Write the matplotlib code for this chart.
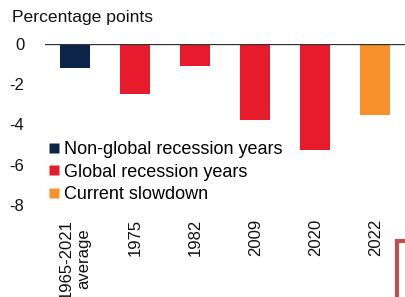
import matplotlib
matplotlib.use("Agg")
import matplotlib.pyplot as plt
from matplotlib.lines import Line2D
from matplotlib.patches import Rectangle

plt.rcParams["font.family"] = ["Liberation Sans", "DejaVu Sans"]

categories = ["1965-2021\naverage", "1975", "1982", "2009", "2020", "2022"]
values = [-1.2, -2.5, -1.1, -3.8, -5.25, -3.55]
groups = ["Non-global recession years", "Global recession years",
          "Global recession years", "Global recession years",
          "Global recession years", "Current slowdown"]
group_colors = {
    "Non-global recession years": "#0c2447",
    "Global recession years": "#e81b2d",
    "Current slowdown": "#f7912c",
}
legend_order = ["Non-global recession years", "Global recession years", "Current slowdown"]

fig = plt.figure(figsize=(4.06, 2.97), dpi=100)
ax = fig.add_axes([0.111, 0.31, 0.895, 0.542])

x = range(len(categories))
ax.bar(x, values, width=0.5, color=[group_colors[g] for g in groups], zorder=2)
ax.axhline(0, color="#333333", lw=1, zorder=3)

ax.set_xlim(-0.5, 5.55)
ax.set_ylim(-8, 0)
ax.set_yticks([0, -2, -4, -6, -8])
ax.set_yticklabels(["0", "-2", "-4", "-6", "-8"])
ax.set_xticks(list(x))
ax.set_xticklabels(categories, rotation=90, va="top", ha="center")
ax.tick_params(axis="both", length=0, labelsize=12, colors="#111111")
ax.tick_params(axis="y", pad=15)
ax.tick_params(axis="x", pad=10)
for s in ax.spines.values():
    s.set_visible(False)

handles = [Line2D([0], [0], marker="s", color="none", markerfacecolor=group_colors[g],
                  markeredgecolor="none", markersize=7) for g in legend_order]
ax.legend(handles, legend_order, loc="lower left", bbox_to_anchor=(0.0, -0.01),
          frameon=False, fontsize=13, handlelength=0.55, handletextpad=0.3,
          labelspacing=0.3, borderpad=0.2, borderaxespad=0)

fig.text(0.03, 0.94, "Percentage points", fontsize=12.6, va="center", ha="left",
         color="#111111")

fig.patches.append(Rectangle((0.979, -0.05), 0.1, 0.24, transform=fig.transFigure,
                             fill=False, edgecolor="#c0504d", lw=3))

fig.savefig("out.png", dpi=100)
